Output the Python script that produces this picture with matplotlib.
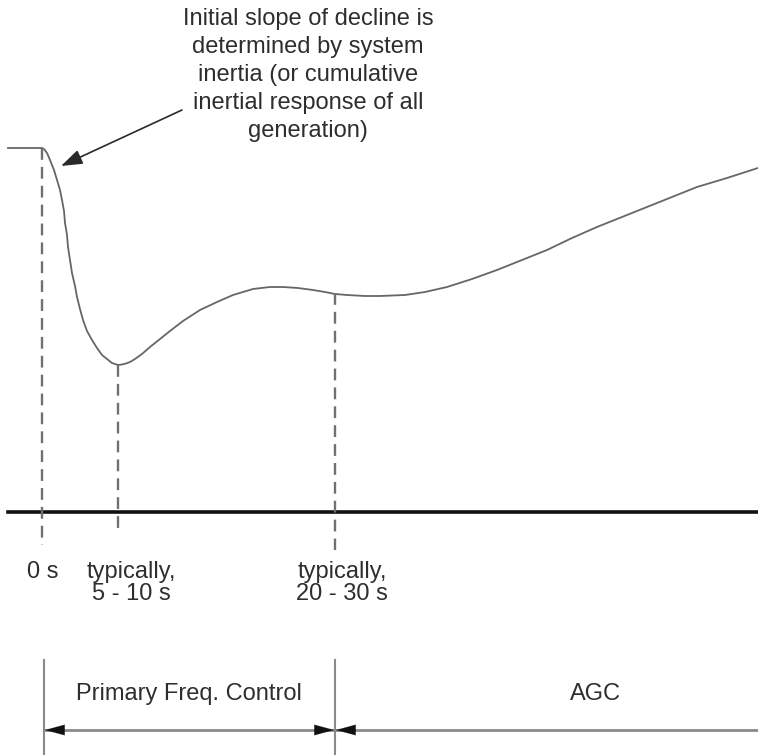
"""Frequency response schematic: inertia, primary control, AGC."""

import matplotlib
matplotlib.use("Agg")
import matplotlib.pyplot as plt

INK = "#2e2e2e"
CURVE = "#666666"
DASH = "#707070"
BAND = "#8a8a8a"

# frequency trace (x to the right, y downwards)
curve_x = [8, 42, 44, 47, 50, 54, 57, 60, 62, 64, 65, 67, 68, 70, 72, 75, 77, 80, 83,
           87, 92, 97, 102, 107, 112, 115, 118, 122, 126, 130, 135, 142, 150, 160, 170,
           183, 200, 217, 233, 253, 270, 283, 298, 313, 325, 335, 347, 365, 380, 405,
           425, 447, 472, 497, 522, 547, 572, 597, 622, 647, 672, 697, 727, 758]
curve_y = [148, 148, 149, 153, 160, 170, 180, 190, 200, 211, 223, 235, 247, 260, 273,
           286, 297, 309, 320, 331, 340, 348, 355, 359, 363, 364, 365, 364.5, 363.5,
           362, 359, 354, 347, 339, 331, 321, 310, 302, 295, 289, 287, 287, 288, 290,
           292, 294, 295, 296, 296, 295, 292, 287, 279, 270, 260, 250, 238, 227, 217,
           207, 197, 187, 178, 168]

# event markers: x position, top of dashed line, bottom of dashed line
marker_x = [42, 118, 335]
marker_top = [148, 365, 293]
marker_bottom = [545, 533, 550]
marker_labels = ["0 s", "typically,\n5 - 10 s", "typically,\n20 - 30 s"]
label_x = [43, 131, 342]

axis_y = 512
bands = ["Primary Freq. Control", "AGC"]
band_edges = [44, 335, 758]
band_label_x = [189, 595]
# arrowheads on the band arrows: (tip, direction)
band_heads = [(45, -1), (334, 1), (336, -1)]

note = ("Initial slope of decline is\ndetermined by system\ninertia (or cumulative\n"
        "inertial response of all\ngeneration)")


def main() -> None:
    plt.rcParams["font.family"] = ["Liberation Sans", "DejaVu Sans"]
    fig = plt.figure(figsize=(7.58, 7.55), dpi=100)
    ax = fig.add_axes([0, 0, 1, 1])
    ax.set_xlim(0, 758)
    ax.set_ylim(755, 0)
    ax.axis("off")

    ax.plot(curve_x, curve_y, color=CURVE, linewidth=1.3, solid_joinstyle="round")
    ax.plot([8, 758], [axis_y, axis_y], color="#111111", linewidth=2.6)

    for x, top, bottom in zip(marker_x, marker_top, marker_bottom):
        ax.plot([x, x], [top, bottom], color=DASH, linewidth=1.7,
                linestyle=(0, (5, 3)))
    for x, label in zip(label_x, marker_labels):
        ax.text(x, 561, label, ha="center", va="top", fontsize=17, color=INK,
                linespacing=1.0)

    ax.text(308, 8, note, ha="center", va="top", fontsize=17, color=INK,
            linespacing=1.36)
    ax.annotate("", xy=(61, 166), xytext=(182, 110),
                arrowprops=dict(arrowstyle="-|>,head_length=1.3,head_width=0.45",
                                color="#2a2a2a", linewidth=1.2, shrinkA=0, shrinkB=0))

    # control bands at the bottom
    for x in band_edges[:2]:
        ax.plot([x, x], [660, 755], color=BAND, linewidth=1.5)
    ax.plot([band_edges[0], band_edges[-1]], [730, 730], color=BAND, linewidth=2.0)
    for tip, direction in band_heads:
        ax.annotate("", xy=(tip, 730), xytext=(tip - direction * 20, 730),
                    arrowprops=dict(arrowstyle="-|>,head_length=1.4,head_width=0.38",
                                    color="#111111", linewidth=0.1,
                                    shrinkA=0, shrinkB=0))
    for x, name in zip(band_label_x, bands):
        ax.text(x, 694, name, ha="center", va="center", fontsize=17, color=INK)

    fig.savefig("out.png", dpi=100, facecolor="white")
    plt.close(fig)


if __name__ == "__main__":
    main()
